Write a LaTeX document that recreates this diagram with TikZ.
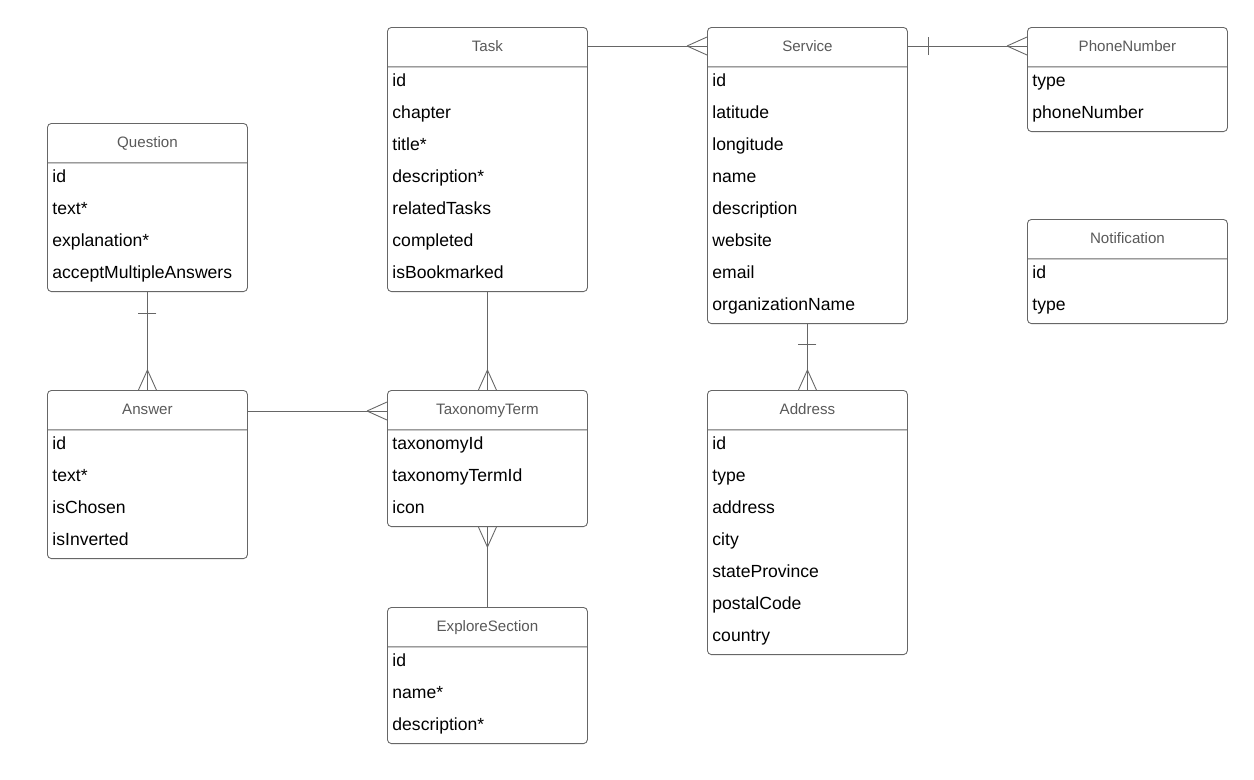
\documentclass[tikz,border=0pt]{standalone}
\usepackage{fontspec}
\setmainfont{Liberation Sans}
\usetikzlibrary{shapes.multipart, calc}
\definecolor{linec}{HTML}{666666}
\definecolor{titlec}{HTML}{595959}
\newcommand{\etitle}[1]{{\color{titlec}\fontsize{8.6pt}{10pt}\selectfont\rule[-0.30cm]{0pt}{0.77cm}#1}}
\newcommand{\erow}[1]{\rule[-0.25cm]{0pt}{0.638cm}#1}

\begin{document}
\begin{tikzpicture}[
    entity/.style={rectangle split, rectangle split parts=2, draw=linec, line width=0.5pt,
        rounded corners=0.08cm, minimum width=4cm, inner xsep=0.1cm, inner ysep=0pt,
        rectangle split part align={center,left}, align=left, anchor=north west,
        font=\fontsize{10pt}{0.64cm}\selectfont},
    link/.style={draw=linec, line width=0.5pt},
    crow/.pic={\draw[link] (-0.4,0) -- (0,0.18) (-0.4,0) -- (0,-0.18);},
    one/.pic={\draw[link] (0,-0.18) -- (0,0.18);}
]
\useasboundingbox (0,0) rectangle (25.08,-15.58);

% Entitaeten
\node[entity] (task) at (7.74,-0.54) {\etitle{Task}\nodepart{two}\erow{id}\\\erow{chapter}\\\erow{title*}\\\erow{description*}\\\erow{relatedTasks}\\\erow{completed}\\\erow{isBookmarked}};
\node[entity] (service) at (14.14,-0.54) {\etitle{Service}\nodepart{two}\erow{id}\\\erow{latitude}\\\erow{longitude}\\\erow{name}\\\erow{description}\\\erow{website}\\\erow{email}\\\erow{organizationName}};
\node[entity] (phone) at (20.54,-0.54) {\etitle{PhoneNumber}\nodepart{two}\erow{type}\\\erow{phoneNumber}};
\node[entity] (notification) at (20.54,-4.38) {\etitle{Notification}\nodepart{two}\erow{id}\\\erow{type}};
\node[entity] (question) at (0.94,-2.46) {\etitle{Question}\nodepart{two}\erow{id}\\\erow{text*}\\\erow{explanation*}\\\erow{acceptMultipleAnswers}};
\node[entity] (answer) at (0.94,-7.80) {\etitle{Answer}\nodepart{two}\erow{id}\\\erow{text*}\\\erow{isChosen}\\\erow{isInverted}};
\node[entity] (term) at (7.74,-7.80) {\etitle{TaxonomyTerm}\nodepart{two}\erow{taxonomyId}\\\erow{taxonomyTermId}\\\erow{icon}};
\node[entity] (address) at (14.14,-7.80) {\etitle{Address}\nodepart{two}\erow{id}\\\erow{type}\\\erow{address}\\\erow{city}\\\erow{stateProvince}\\\erow{postalCode}\\\erow{country}};
\node[entity] (explore) at (7.74,-12.14) {\etitle{ExploreSection}\nodepart{two}\erow{id}\\\erow{name*}\\\erow{description*}};

% Beziehungen
\draw[link] ([yshift=-0.38cm]task.north east) -- ([yshift=-0.38cm]service.north west);
\pic at ([yshift=-0.38cm]service.north west) {crow};

\draw[link] ([yshift=-0.38cm]service.north east) -- ([yshift=-0.38cm]phone.north west);
\pic at ([xshift=0.42cm,yshift=-0.38cm]service.north east) {one};
\pic at ([yshift=-0.38cm]phone.north west) {crow};

\draw[link] (question.south) -- (answer.north);
\pic[rotate=90] at ([yshift=-0.42cm]question.south) {one};
\pic[rotate=-90] at (answer.north) {crow};

\draw[link] ([yshift=-0.42cm]answer.north east) -- ([yshift=-0.42cm]term.north west);
\pic at ([yshift=-0.42cm]term.north west) {crow};

\draw[link] (task.south) -- (term.north);
\pic[rotate=-90] at (term.north) {crow};

\draw[link] (term.south) -- (explore.north);
\pic[rotate=90] at (term.south) {crow};

\draw[link] (service.south) -- (address.north);
\pic[rotate=90] at ([yshift=-0.4cm]service.south) {one};
\pic[rotate=-90] at (address.north) {crow};
\end{tikzpicture}
\end{document}
